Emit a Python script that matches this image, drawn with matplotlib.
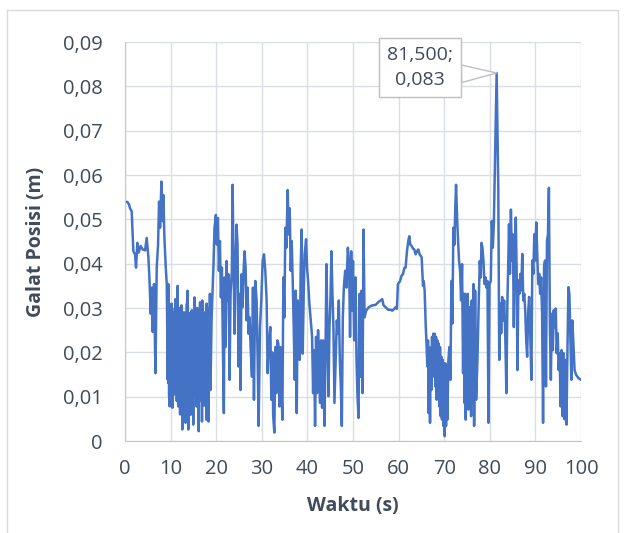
import matplotlib
matplotlib.use("Agg")
import matplotlib.pyplot as plt
from matplotlib.patches import Rectangle

# waktu (s) dan galat posisi (m)
waktu = [
    0.0, 0.51, 0.88, 1.1, 1.47, 1.83, 2.2, 2.42, 2.71, 3.0, 3.44, 3.88, 4.4, 4.76,
    5.13, 5.35, 5.64, 5.86, 6.08, 6.37, 6.67, 6.96, 7.25, 7.47, 7.69, 7.99, 8.2,
    8.42, 8.64, 8.94, 9.16, 9.38,
    9.50, 9.56, 9.62, 9.68, 9.74, 9.80, 9.86, 9.92, 9.98, 10.04,
    10.10, 10.16, 10.22, 10.28, 10.34, 10.40, 10.46, 10.52, 10.58, 10.64,
    10.70, 10.76, 10.82, 10.88, 10.94, 11.00, 11.06, 11.12, 11.18, 11.24,
    11.30, 11.36, 11.42, 11.48, 11.54, 11.60, 11.66, 11.72, 11.78, 11.84,
    11.90, 11.96, 12.02, 12.08, 12.14, 12.20, 12.26, 12.32, 12.38, 12.44,
    12.50, 12.56, 12.62, 12.68, 12.74, 12.80, 12.86, 12.92, 12.98, 13.04,
    13.10, 13.16, 13.22, 13.28, 13.34, 13.40, 13.46, 13.52, 13.58, 13.64,
    13.70, 13.76, 13.82, 13.88, 13.94, 14.00, 14.06, 14.12, 14.18, 14.24,
    14.30, 14.36, 14.42, 14.48, 14.54, 14.60, 14.66, 14.72, 14.78, 14.84,
    14.90, 14.96, 15.02, 15.08, 15.14, 15.20, 15.26, 15.32, 15.38, 15.44,
    15.50, 15.56, 15.62, 15.68, 15.74, 15.80, 15.86, 15.92, 15.98, 16.04,
    16.10, 16.16, 16.22, 16.28, 16.34, 16.40, 16.46, 16.52, 16.58, 16.64,
    16.70, 16.76, 16.82, 16.88, 16.94, 17.00, 17.06, 17.12, 17.18, 17.24,
    17.30, 17.36, 17.42, 17.48, 17.54, 17.60, 17.66, 17.72, 17.78, 17.84,
    17.90, 17.96, 18.02, 18.08, 18.14, 18.20, 18.26, 18.32, 18.38, 18.44,
    18.50, 18.56, 18.62, 18.68, 18.74,
    19.0, 19.41, 19.63, 19.93, 20.15, 20.37, 20.59, 20.81, 21.03, 21.25, 21.47,
    21.68, 21.83, 22.05, 22.27, 22.49, 22.71, 22.93, 23.15, 23.44, 23.59, 23.81,
    24.02, 24.24, 24.46, 24.68, 24.9, 25.12, 25.34, 25.56, 25.79, 26.0, 26.22,
    26.45, 26.67, 26.88, 27.1, 27.33, 27.55, 27.84, 28.06, 28.28, 28.57, 28.86,
    29.08, 29.3, 29.6, 29.89, 30.18, 30.48, 30.77, 31.06, 31.28, 31.5, 31.87,
    32.09, 32.3, 32.5, 32.75, 32.97, 33.19, 33.41, 33.63, 33.85, 34.07, 34.29,
    34.51, 34.73, 34.95, 35.16, 35.38, 35.68, 35.9, 36.12, 36.34, 36.56, 36.78,
    37.0, 37.22, 37.44, 37.66, 37.88, 38.1, 38.32, 38.53, 38.75, 38.97, 39.19,
    39.41, 39.71, 39.93, 40.15, 40.44, 40.73, 41.03, 41.25, 41.47, 41.68, 41.9,
    42.12, 42.34, 42.56, 42.78, 43.0, 43.22, 43.44, 43.74, 43.96, 44.18, 44.4,
    44.62, 44.84, 45.05, 45.27, 45.49, 45.71, 45.93, 46.23, 46.45, 46.67, 46.89,
    47.11, 47.33, 47.55, 47.77, 47.99, 48.28, 48.57, 48.87, 49.16,
    49.35, 49.6, 49.8, 50.0, 50.26, 50.55, 50.77, 50.99, 51.21, 51.43, 51.65,
    51.87, 52.09, 52.31, 52.53, 52.89, 53.48, 54.21, 54.95, 55.53, 56.04, 56.41,
    56.7, 57.14, 57.73, 58.24, 58.61, 58.97, 59.34, 59.63, 59.85, 60.29, 60.66,
    60.95, 61.25, 61.54, 61.83, 62.12, 62.34, 62.56, 62.86, 63.15, 63.44, 63.74,
    64.03, 64.32, 64.62, 65.06, 65.35, 65.5,
    65.71, 65.93, 66.15, 66.3, 66.45, 66.59, 66.74, 66.89, 67.03, 67.18, 67.33,
    67.47, 67.62, 67.77, 67.91, 68.06, 68.21, 68.35, 68.5, 68.64, 68.79, 68.94,
    69.08, 69.23, 69.38, 69.52, 69.67, 69.82, 69.96, 70.11, 70.26, 70.4, 70.55,
    70.7, 70.92, 71.14, 71.36, 71.58, 71.79, 72.01, 72.23, 72.45, 72.6, 72.82,
    73.04, 73.26, 73.48, 73.7, 73.92, 74.14, 74.29, 74.43, 74.58, 74.73, 74.87,
    75.02, 75.16, 75.31, 75.46, 75.6, 75.75, 75.9, 76.04, 76.19, 76.41, 76.56,
    76.78, 77.0, 77.29, 77.58, 77.8, 78.02, 78.17, 78.39, 78.61, 78.83, 79.05,
    79.27, 79.49, 79.71, 79.93, 80.22, 80.44, 80.66, 80.88,
    81.5, 81.86, 82.07, 82.28, 82.5, 82.71, 82.92, 83.14, 83.35, 83.64, 83.85,
    84.06, 84.21, 84.42, 84.63, 84.85, 85.06, 85.27, 85.49, 85.7, 85.91, 86.06,
    86.27, 86.48, 86.7, 86.91, 87.12, 87.34, 87.55, 87.77, 87.98, 88.19, 88.41,
    88.62, 88.83, 89.12, 89.33, 89.55, 89.76, 89.97, 90.19, 90.4, 90.61, 90.83,
    91.04, 91.25, 91.47, 91.68, 91.9, 92.11, 92.32, 92.54, 92.75, 92.96, 93.18,
    93.39, 93.6, 93.82, 94.03, 94.24, 94.46, 94.67, 94.89, 95.1, 95.31, 95.53,
    95.74, 95.95, 96.17, 96.38, 96.59, 96.81, 97.02, 97.24, 97.45, 97.66, 97.88,
    98.09, 98.3, 98.59, 98.94, 99.44, 100.0,
]
galat = [
    .0540, .0539, .0534, .0525, .0518, .0428, .0421, .0391, .0447, .0425, .0440,
    .0432, .0430, .0458, .0414, .0369, .0287, .0346, .0246, .0354, .0153, .0391,
    .0443, .0540, .0481, .0585, .0496, .0555, .0458, .0391, .0354, .0138,
    .0354, .0130, .0290, .0100, .0300, .0078, .0270, .0120, .0285, .0110,
    .0280, .0095, .0310, .0120, .0290, .0075, .0275, .0125, .0270, .0130,
    .0290, .0115, .0280, .0105, .0300, .0120, .0320, .0130, .0285, .0120,
    .0300, .0090, .0290, .0115, .0350, .0100, .0270, .0078, .0285, .0120,
    .0300, .0110, .0285, .0060, .0260, .0120, .0280, .0090, .0306, .0115,
    .0270, .0026, .0280, .0110, .0290, .0070, .0250, .0120, .0285, .0100,
    .0290, .0120, .0275, .0041, .0270, .0115, .0285, .0080, .0310, .0120,
    .0339, .0110, .0290, .0026, .0280, .0120, .0275, .0090, .0260, .0115,
    .0280, .0059, .0290, .0120, .0285, .0110, .0295, .0120, .0280, .0100,
    .0270, .0037, .0285, .0120, .0270, .0100, .0324, .0115, .0290, .0120,
    .0280, .0110, .0300, .0078, .0290, .0120, .0300, .0110, .0260, .0100,
    .0285, .0022, .0290, .0120, .0280, .0090, .0313, .0115, .0285, .0120,
    .0280, .0110, .0290, .0044, .0317, .0120, .0280, .0100, .0270, .0115,
    .0280, .0080, .0290, .0120, .0285, .0130, .0260, .0110, .0280, .0048,
    .0310, .0110, .0285, .0120, .0280, .0115, .0290, .0044, .0300, .0120,
    .0290, .0120, .0332, .0150, .0115,
    .0279, .0399, .0481, .0510, .0443, .0503, .0384, .0451, .0324, .0391, .0212,
    .0063, .0369, .0212, .0406, .0317, .0376, .0138, .0332, .0384, .0578, .0406,
    .0242, .0384, .0488, .0443, .0168, .0332, .0115, .0376, .0302, .0384, .0428,
    .0391, .0272, .0346, .0242, .0279, .0212, .0145, .0346, .0093, .0361, .0317,
    .0190, .0034, .0257, .0317, .0406, .0421, .0384, .0317, .0153, .0212, .0257,
    .0093, .0200, .0056, .0019, .0212, .0108, .0227, .0220, .0078, .0212, .0123,
    .0048, .0369, .0279, .0481, .0436, .0566, .0466, .0525, .0384, .0451, .0361,
    .0257, .0138, .0339, .0063, .0317, .0242, .0183, .0391, .0477, .0197, .0332,
    .0421, .0455, .0391, .0361, .0309, .0272, .0235, .0108, .0205, .0034, .0235,
    .0108, .0250, .0153, .0086, .0227, .0075, .0227, .0034, .0190, .0399, .0250,
    .0101, .0257, .0317, .0428, .0332, .0257, .0086, .0197, .0272, .0242, .0317,
    .0183, .0123, .0034, .0279, .0346, .0384, .0346, .0436, .0391,
    .0235, .0428, .0294, .0406, .0227, .0369, .0183, .0101, .0052, .0332, .0145,
    .0339, .0108, .0477, .0279, .0294, .0302, .0306, .0307, .0313, .0317, .0320,
    .0306, .0302, .0296, .0296, .0294, .0297, .0302, .0298, .0354, .0360, .0373,
    .0376, .0390, .0391, .0428, .0451, .0462, .0443, .0440, .0434, .0432, .0421,
    .0428, .0432, .0421, .0414, .0350, .0361,
    .0339, .0265, .0212, .0168, .0227, .0063, .0212, .0041, .0197, .0115, .0235,
    .0153, .0242, .0145, .0242, .0123, .0235, .0093, .0227, .0108, .0220, .0078,
    .0212, .0056, .0190, .0048, .0183, .0034, .0175, .0011, .0175, .0034, .0168,
    .0048, .0183, .0212, .0138, .0361, .0265, .0481, .0443, .0533, .0578, .0507,
    .0451, .0406, .0384, .0317, .0399, .0153, .0332, .0086, .0332, .0048, .0324,
    .0093, .0332, .0071, .0302, .0108, .0242, .0056, .0317, .0086, .0354, .0034,
    .0339, .0093, .0183, .0317, .0406, .0369, .0447, .0436, .0406, .0354, .0369,
    .0346, .0361, .0041, .0354, .0361, .0496, .0436, .0488,
    .0830, .0571, .0183, .0310, .0243, .0325, .0272, .0317, .0257, .0108, .0310,
    .0407, .0489, .0377, .0522, .0407, .0466, .0257, .0437, .0504, .0369, .0160,
    .0362, .0332, .0377, .0340, .0422, .0317, .0332, .0295, .0228, .0190, .0287,
    .0325, .0257, .0138, .0407, .0377, .0466, .0407, .0493, .0422, .0354, .0377,
    .0332, .0369, .0287, .0041, .0392, .0407, .0123, .0451, .0466, .0571, .0257,
    .0138, .0287, .0205, .0295, .0257, .0299, .0198, .0243, .0160, .0198, .0078,
    .0205, .0056, .0198, .0049, .0183, .0037, .0198, .0347, .0332, .0235, .0138,
    .0272, .0228, .0160, .0149, .0142, .0138,
]

x_ticks = [0, 10, 20, 30, 40, 50, 60, 70, 80, 90, 100]
y_ticks = [0, 0.01, 0.02, 0.03, 0.04, 0.05, 0.06, 0.07, 0.08, 0.09]
y_labels = ['0', '0,01', '0,02', '0,03', '0,04', '0,05', '0,06', '0,07', '0,08', '0,09']

plt.rcParams['font.family'] = ['Open Sans', 'DejaVu Sans']
TEXT = '#3F4A5A'
GRID = '#D9DDE4'

fig = plt.figure(figsize=(6.25, 5.33), dpi=100)
ax = fig.add_axes([0.2, 0.1726, 0.7296, 0.7486])

ax.plot(waktu, galat, color='#4472C4', lw=1.8)

ax.set_xlim(0, 100)
ax.set_ylim(0, 0.09)
ax.set_xticks(x_ticks)
ax.set_yticks(y_ticks)
ax.set_yticklabels(y_labels)
ax.grid(True, color=GRID, lw=1)
ax.set_axisbelow(True)
for s in ['top', 'right']:
    ax.spines[s].set_visible(False)
for s in ['left', 'bottom']:
    ax.spines[s].set_color('#BFC6D1')
ax.tick_params(length=0, labelsize=14.5, labelcolor=TEXT)
ax.tick_params(axis='y', pad=16)
ax.tick_params(axis='x', pad=13)

ax.set_xlabel('Waktu (s)', fontsize=14, fontweight='bold', color=TEXT, labelpad=12)
ax.set_ylabel('Galat Posisi (m)', fontsize=14, fontweight='bold', color=TEXT, labelpad=12)

# label titik puncak
i_max = galat.index(max(galat))
pt, pv = waktu[i_max], galat[i_max]
label = f"{pt:.3f};\n{pv:.3f}".replace('.', ',')
ax.annotate(label, xy=(pt, pv), xytext=(-55, 4), textcoords='offset points',
            ha='center', va='center', fontsize=14, color=TEXT, linespacing=1.5,
            bbox=dict(boxstyle='square,pad=0.4', fc='white', ec='#BFBFBF', lw=1),
            arrowprops=dict(arrowstyle='wedge,tail_width=0.9', fc='white', ec='#BFBFBF',
                            lw=1, shrinkA=0, shrinkB=0, relpos=(1, 0.35)))

fig.patches.append(Rectangle((7 / 625, -0.01), 611 / 625, 1 - 10 / 533 + 0.01,
                             transform=fig.transFigure, fill=False, ec='#D9D9D9', lw=1))

fig.savefig('out.png', dpi=100)
